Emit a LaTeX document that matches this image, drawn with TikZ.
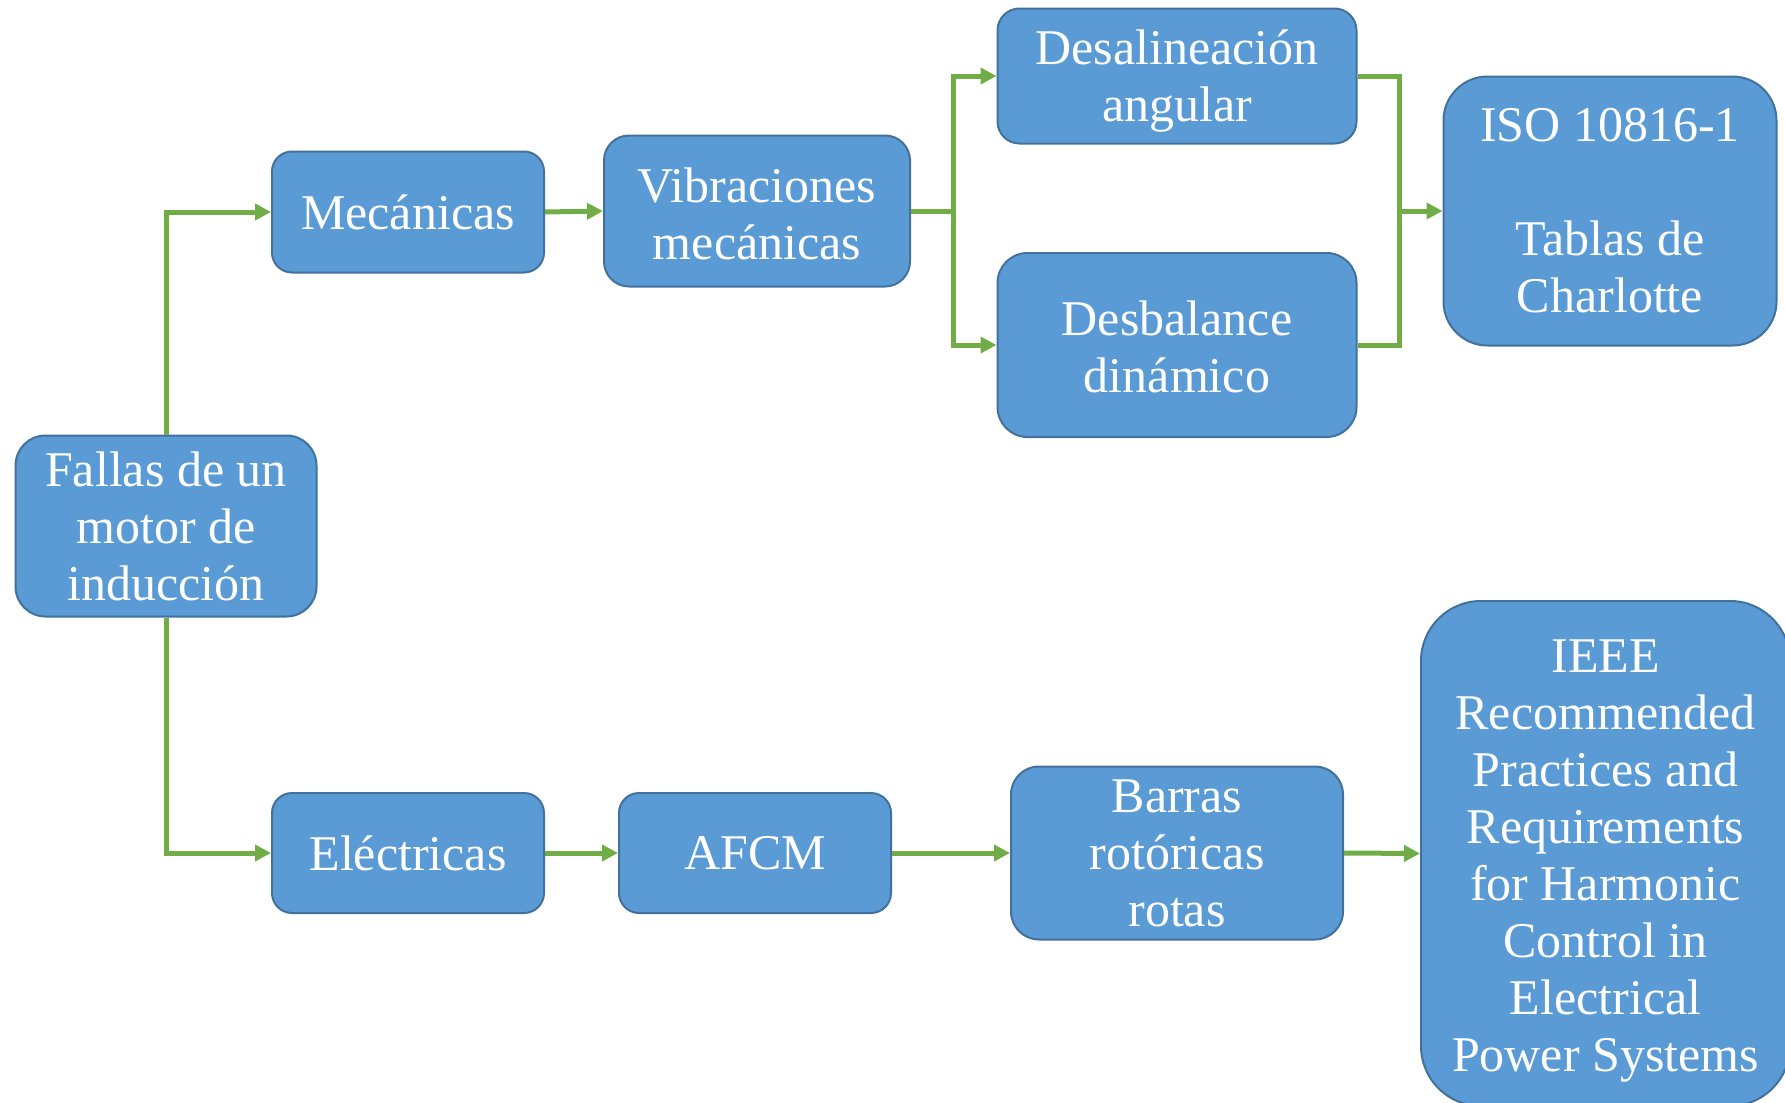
\documentclass[tikz,border=0pt]{standalone}
\usepackage{fontspec}
\setmainfont{Liberation Serif}
\usetikzlibrary{arrows.meta}
\definecolor{boxfill}{HTML}{5B9BD5}
\definecolor{boxline}{HTML}{41719C}
\definecolor{conn}{HTML}{70AD47}
\newcommand{\pushtext}[1]{\rule{0pt}{#1}}
\tikzset{
  fbox/.style={draw=boxline, line width=1pt, fill=boxfill, text=white, align=center,
    font=\fontsize{25}{28.5}\selectfont, inner sep=0pt},
  link/.style={draw=conn, line width=2.5pt, line join=miter},
  arrlink/.style={link, -{Triangle[length=8pt,width=8pt]}}
}
\begin{document}
\begin{tikzpicture}[x=0.5pt,y=-0.5pt]
\useasboundingbox (0,0) rectangle (1785,1103);
\begin{scope}
\clip (0,0) rectangle (1785,1103);
\node[fbox, minimum width=150.5pt, minimum height=90.5pt, rounded corners=15pt] (fallas) at (166,526) {Fallas de un\\motor de\\inducción};
\node[fbox, minimum width=136pt, minimum height=60.5pt, rounded corners=10pt] (mec) at (408,212) {Mecánicas};
\node[fbox, minimum width=153pt, minimum height=75.5pt, rounded corners=12.5pt] (vib) at (757,211) {\pushtext{20pt}Vibraciones\\mecánicas};
\node[fbox, minimum width=179.5pt, minimum height=67.5pt, rounded corners=11pt] (desal) at (1177,76) {\pushtext{22.8pt}Desalineación\\angular};
\node[fbox, minimum width=179.5pt, minimum height=92pt, rounded corners=15pt] (desb) at (1177,345) {\pushtext{19.5pt}Desbalance\\dinámico};
\node[fbox, minimum width=166.5pt, minimum height=134.5pt, rounded corners=22pt] (iso) at (1610,211) {ISO 10816-1\\[28.5pt]Tablas de\\Charlotte};
\node[fbox, minimum width=136pt, minimum height=60pt, rounded corners=10pt] (elec) at (408,853) {Eléctricas};
\node[fbox, minimum width=136pt, minimum height=60pt, rounded corners=10pt] (afcm) at (755,853) {AFCM};
\node[fbox, minimum width=166pt, minimum height=86.5pt, rounded corners=14pt] (barras) at (1177,853) {Barras\\rotóricas\\rotas};
\node[fbox, minimum width=184.5pt, minimum height=252.5pt, rounded corners=30pt] (ieee) at (1605.5,853.5) {\pushtext{23.5pt}IEEE\\Recommended\\Practices and\\Requirements\\for Harmonic\\Control in\\Electrical\\Power Systems};

\coordinate (s1) at (953,211);
\coordinate (m1) at (1399,211);

\draw[arrlink] (fallas.north) |- (mec.west);
\draw[arrlink] (fallas.south) |- (elec.west);
\draw[arrlink] (mec.east) -- (vib.west);
\draw[link] (vib.east) -- (s1);
\draw[arrlink] (s1) |- (desal.west);
\draw[arrlink] (s1) |- (desb.west);
\draw[link] (desal.east) -| (m1);
\draw[link] (desb.east) -| (m1);
\draw[arrlink] (m1) -- (iso.west);
\draw[arrlink] (elec.east) -- (afcm.west);
\draw[arrlink] (afcm.east) -- (barras.west);
\draw[arrlink] (barras.east) -- (ieee.west);
\end{scope}
\end{tikzpicture}
\end{document}
